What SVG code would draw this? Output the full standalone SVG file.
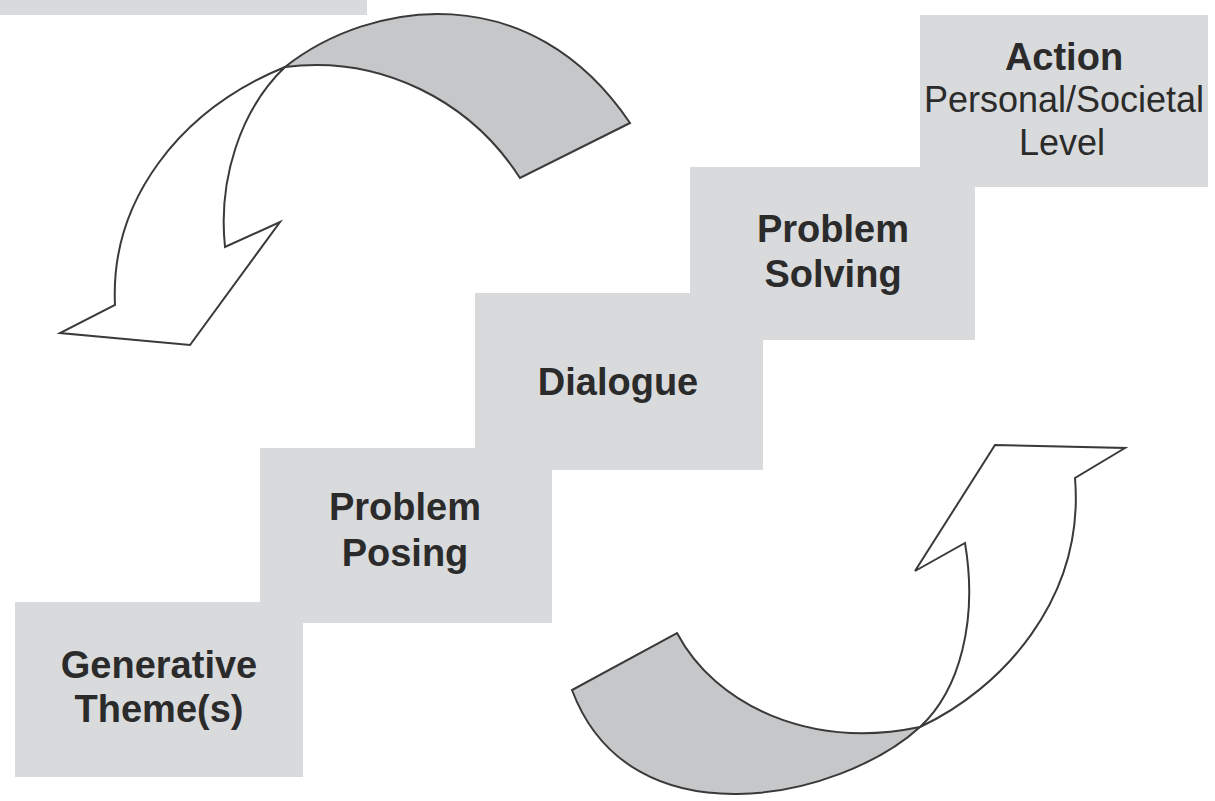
<svg xmlns="http://www.w3.org/2000/svg" width="1215" height="801" viewBox="0 0 1215 801">
<style>
.box{fill:#d9dadc;stroke:none}
.lbl{font-family:"Liberation Sans",Arial,sans-serif;font-weight:bold;font-size:38px;fill:#2b2b2b;text-anchor:middle}
.sub{font-family:"Liberation Sans",Arial,sans-serif;font-weight:normal;font-size:36px;fill:#2b2b2b;text-anchor:middle}
.band{fill:#c6c7c9;stroke:#3a3a3a;stroke-width:2;stroke-linejoin:miter}
.arr{fill:#ffffff;stroke:#3a3a3a;stroke-width:2;stroke-linejoin:miter}
</style>
<rect width="1215" height="801" fill="#ffffff"/>
<g id="top-partial"><rect class="box" x="0" y="0" width="367" height="15"/></g>
<g id="action"><rect class="box" x="920" y="15" width="288" height="172"/>
<text class="lbl" x="1064" y="70">Action</text>
<text class="sub" x="1064" y="112">Personal/Societal</text>
<text class="sub" x="1062" y="155">Level</text></g>
<g id="problem-solving"><rect class="box" x="690" y="167" width="285" height="173"/>
<text class="lbl" x="833" y="242">Problem</text>
<text class="lbl" x="833" y="287">Solving</text></g>
<g id="dialogue"><rect class="box" x="475" y="293" width="288" height="177"/>
<text class="lbl" x="618" y="395">Dialogue</text></g>
<g id="problem-posing"><rect class="box" x="260" y="448" width="292" height="175"/>
<text class="lbl" x="405" y="520">Problem</text>
<text class="lbl" x="405" y="566">Posing</text></g>
<g id="generative-themes"><rect class="box" x="15" y="602" width="288" height="175"/>
<text class="lbl" x="159" y="678">Generative</text>
<text class="lbl" x="159" y="722">Theme(s)</text></g>
<g id="connectors">
<path class="band" d="M 285 67 C 370 0, 530 -25, 630 123 L 520 178 C 470 100, 380 55, 285 67 Z"/>
<path class="arr" d="M 285 67 C 180 110, 110 200, 115 305 L 60 333 L 190 345 L 280 222 L 225 247 C 218 180, 240 110, 285 67 Z"/>
<path class="band" d="M 920 727 C 840 800, 630 845, 572 690 L 677 633 C 715 705, 810 750, 920 727 Z"/>
<path class="arr" d="M 920 727 C 1000 690, 1085 600, 1075 478 L 1125 448 L 995 445 L 915 571 L 965 543 C 978 620, 960 690, 920 727 Z"/>
</g>
</svg>
